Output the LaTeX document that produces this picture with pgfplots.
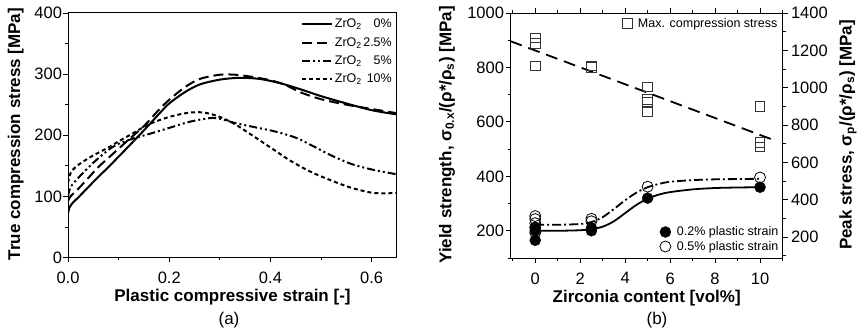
\documentclass[border=0pt]{standalone}
\usepackage{fontspec}
\setmainfont{Liberation Sans}
\usepackage{pgfplots}
\pgfplotsset{compat=1.18}
\newcommand\lblfont{\bfseries\fontsize{17bp}{17bp}\selectfont}
\newcommand\legfont{\fontsize{12.5bp}{13bp}\selectfont}
\begin{document}
\begin{tikzpicture}
\path[use as bounding box] (0,0) rectangle (862bp,332bp);
\pgfplotsset{every axis/.append style={scale only axis, tick align=outside,
  major tick length=5bp, minor tick length=3bp,
  axis line style={line width=1bp},
  every tick/.append style={line width=0.8bp, black},
  tick label style={font=\fontsize{16.5bp}{16.5bp}\selectfont},
  xticklabel style={yshift=-6bp},
  /pgf/number format/assume math mode=true,
  /pgf/number format/1000 sep={}}}
% ---------------- panel (a) ----------------
\begin{axis}[at={(68bp,74.5bp)}, anchor=south west, width=329bp, height=244.5bp,
  xmin=0, xmax=0.65, ymin=0, ymax=400,
  xtick={0,0.2,0.4,0.6}, minor xtick={0.1,0.3,0.5},
  ytick={0,100,...,400}, minor ytick={50,150,250,350},
  xtick pos=bottom, ytick pos=left,
  yticklabel style={xshift=2.5bp},
  xticklabel style={/pgf/number format/.cd, fixed, fixed zerofill, precision=1},
  legend style={at={(rel axis cs:1,1)}, anchor=north east, draw=none, fill=none,
    font=\legfont, row sep=4bp, inner sep=1bp, xshift=-2bp, yshift=-3bp},
  legend cell align=left,
  legend image code/.code={\draw[#1] (0bp,0bp) -- (30bp,0bp);}]
\addplot[black, line width=2bp, smooth] coordinates {
(0,72)(0.003,82)(0.01,90)(0.02,98)(0.04,115)(0.06,132)(0.08,148)(0.1,165)(0.12,182)(0.15,208)(0.18,235)(0.2,252)(0.23,270)(0.26,283)(0.3,291)(0.34,294)(0.38,292)(0.42,285)(0.46,275)(0.5,264)(0.55,252)(0.6,241)(0.65,234)};
\addlegendentry{ZrO\textsubscript{2}\makebox[2.4em][r]{0\%}}
\addplot[black, line width=2bp, smooth, dash pattern=on 10bp off 5bp] coordinates {
(0,92)(0.005,100)(0.02,112)(0.04,130)(0.06,148)(0.08,163)(0.1,178)(0.12,193)(0.15,215)(0.18,242)(0.2,258)(0.23,278)(0.26,292)(0.3,299)(0.33,299)(0.36,296)(0.4,290)(0.43,282)(0.46,270)(0.5,259)(0.55,250)(0.6,243)(0.65,236)};
\addlegendentry{ZrO\textsubscript{2}\makebox[2.4em][r]{2.5\%}}
\addplot[black, line width=2bp, smooth, dash pattern=on 8bp off 3bp on 2bp off 3bp on 2bp off 3bp] coordinates {
(0,100)(0.005,115)(0.02,130)(0.05,155)(0.08,176)(0.1,186)(0.13,195)(0.16,202)(0.2,212)(0.24,222)(0.28,228)(0.3,227)(0.33,220)(0.37,213)(0.41,206)(0.45,196)(0.48,184)(0.52,167)(0.56,153)(0.6,144)(0.65,136)};
\addlegendentry{ZrO\textsubscript{2}\makebox[2.4em][r]{5\%}}
\addplot[black, line width=2bp, smooth, dash pattern=on 4bp off 3bp] coordinates {
(0,122)(0.005,138)(0.015,148)(0.03,157)(0.05,167)(0.08,180)(0.1,190)(0.13,204)(0.16,218)(0.2,230)(0.24,237)(0.27,237)(0.3,230)(0.33,218)(0.36,202)(0.4,180)(0.44,158)(0.48,140)(0.52,126)(0.56,114)(0.6,106)(0.63,105)(0.65,106)};
\addlegendentry{ZrO\textsubscript{2}\makebox[2.4em][r]{10\%}}
\end{axis}
% ---------------- panel (b), left axis ----------------
\begin{axis}[at={(510.5bp,74bp)}, anchor=south west, width=272bp, height=245bp,
  xmin=-1.1, xmax=11, ymin=100, ymax=1000,
  xtick={0,2,...,10}, minor xtick={-1,1,3,5,7,9,11},
  xtick pos=both, xticklabel pos=bottom,
  ytick={200,400,...,1000}, minor ytick={100,300,...,900}, ytick pos=left,
  yticklabel style={xshift=2bp},
  legend style={at={(rel axis cs:1,0)}, anchor=south east, draw=none, fill=none,
    font=\legfont, row sep=0bp, column sep=4bp, inner sep=1bp, xshift=-1bp, yshift=3bp},
  legend cell align=left]
\addplot[black, line width=1.8bp, smooth, forget plot] coordinates {
(0,200)(1,200)(2,202)(2.5,206)(3,215)(3.5,235)(4,265)(4.5,295)(5,318)(5.5,333)(6,342)(7,352)(8,357)(9,359)(10,360)};
\addplot[black, line width=1.8bp, smooth, forget plot, dash pattern=on 9bp off 3bp on 2bp off 3bp] coordinates {
(0,222)(1,222)(2,225)(2.5,232)(3,250)(3.5,280)(4,312)(4.5,340)(5,360)(5.5,372)(6,380)(7,386)(8,389)(9,390)(10,391)};
\addplot[only marks, mark=*, mark size=5.5bp, black] coordinates {
(0,165)(0,200)(0,212)(2.5,200)(2.5,210)(5,320)(10,360)};
\addlegendentry{0.2\% plastic strain}
\addplot[only marks, mark=o, mark size=5.5bp, black, mark options={line width=0.8bp}] coordinates {
(0,254)(0,243)(0,228)(0,212)(0,193)(2.5,244)(2.5,235)(5,362)(10,396)};
\addlegendentry{0.5\% plastic strain}
\end{axis}
% ---------------- panel (b), right axis ----------------
\begin{axis}[at={(510.5bp,74bp)}, anchor=south west, width=272bp, height=245bp,
  xmin=-1.1, xmax=11, ymin=88, ymax=1400,
  axis x line=none, axis y line*=right,
  ytick={200,400,...,1400}, minor ytick={100,300,...,1300},
  legend style={at={(rel axis cs:1,1)}, anchor=north east, draw=none, fill=none,
    font=\legfont, column sep=4bp, inner sep=1bp, xshift=-2bp, yshift=-2bp},
  legend cell align=left]
\addplot[black, line width=1.8bp, forget plot, dash pattern=on 12bp off 7bp] coordinates {
(-1.1,1249)(10.6,720)};
\addplot[only marks, mark=square, mark size=4.8bp, black!80, mark options={line width=0.8bp}] coordinates {
(0,1266)(0,1237)(0,1117)(2.5,1117)(2.5,1108)(5,1005)(5,938)(5,922)(5,872)(10,901)(10,708)(10,684)};
\addlegendentry{Max. compression stress}
\end{axis}
% ---------------- labels ----------------
\node[font=\lblfont, rotate=90] at (15.7bp,198bp) {True compression stress [MPa]};
\node[font=\lblfont] at (232.5bp,35bp) {Plastic compressive strain [-]};
\node[font=\fontsize{17bp}{17bp}\selectfont] at (229bp,12bp) {(a)};
\node[font=\lblfont, rotate=90] at (447bp,197bp) {Yield strength, σ\textsubscript{0.x}/(ρ*/ρ\textsubscript{s}) [MPa]};
\node[font=\lblfont, rotate=90] at (848bp,197bp) {Peak stress, σ\textsubscript{p}/(ρ*/ρ\textsubscript{s}) [MPa]};
\node[font=\lblfont] at (646.7bp,34bp) {Zirconia content [vol\%]};
\node[font=\fontsize{17bp}{17bp}\selectfont] at (657bp,12bp) {(b)};
\end{tikzpicture}
\end{document}
